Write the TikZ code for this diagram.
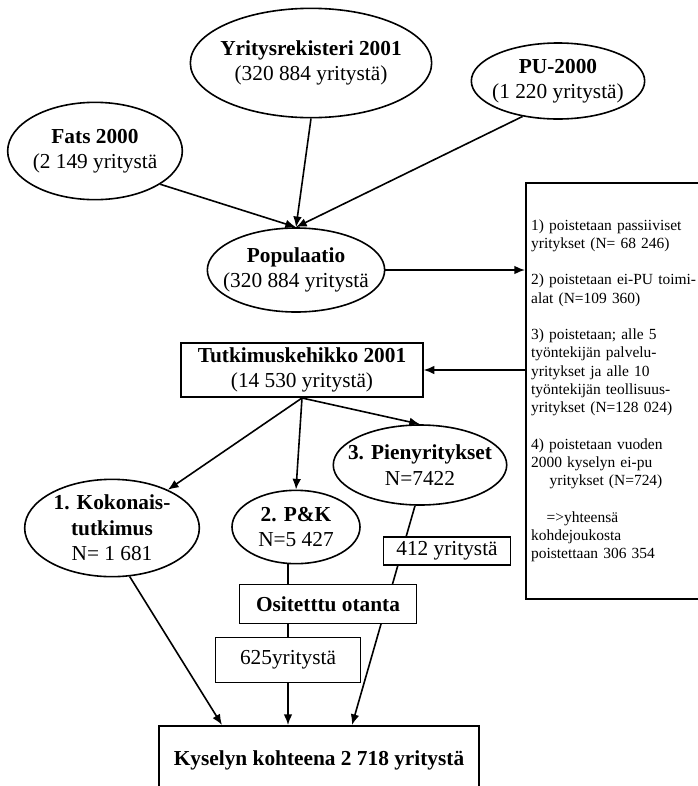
\documentclass[tikz,border=0pt]{standalone}
\usepackage{fontspec}
\setmainfont{Liberation Serif}
\usetikzlibrary{shapes.geometric,arrows.meta,backgrounds}

\begin{document}
\begin{tikzpicture}[x=0.75pt, y=-0.75pt, line width=1.2pt,
    >={Latex[length=8pt,width=6.5pt]},
    every on background layer/.style={line width=1.2pt},
    src/.style={ellipse, draw, inner xsep=-8pt, inner ysep=0pt, align=center,
      font=\fontsize{16}{19}\selectfont},
    box/.style={rectangle, draw, fill=white, inner sep=0pt, align=center,
      font=\fontsize{16}{19}\selectfont}]
    % Frame of the picture
    \useasboundingbox (0,0) rectangle (698,786);
    \clip (0,0) rectangle (698,786);

    % Draw the sources
    \node[src, minimum width=181pt, minimum height=82pt] (yr) at (311,63) {\textbf{Yritysrekisteri 2001}\\(320 884 yritystä)};
    \node[src, minimum width=131pt, minimum height=73pt] (fats) at (95,151) {\textbf{Fats 2000}\\(2 149 yritystä};
    \node[src, minimum width=130pt, minimum height=57pt] (pu) at (558,81) {\textbf{PU-2000}\\(1 220 yritystä)};
    \node[src, minimum width=133pt, minimum height=63pt] (pop) at (296,270) {\textbf{Populaatio}\\(320 884 yritystä};

    % Draw the removals and the frame
    \node[draw, anchor=north west, text width=150pt, inner xsep=4pt, minimum height=312pt,
      align=left, font=\fontsize{11.6}{13.7}\selectfont] (rb) at (525,182)
      {1) poistetaan passiiviset\\
       yritykset\ (N= 68 246)\\[13.7pt]
       2) poistetaan ei-PU toimi-\\
       alat (N=109 360)\\[13.7pt]
       3) poistetaan; alle 5\\
       työntekijän palvelu-\\
       yritykset ja alle 10\\
       työntekijän teollisuus-\\
       yritykset (N=128 024)\\[13.7pt]
       4) poistetaan vuoden\\
       2000 kyselyn ei-pu\\
       \hspace*{1.2em}yritykset\ (N=724)\\[13.7pt]
       \hspace*{1em}=>yhteensä\\
       kohdejoukosta\\
       poistettaan 306 354};
    \node[box, line width=1.5pt, minimum width=181pt, minimum height=40.5pt] (tk) at (302,370) {\textbf{Tutkimuskehikko 2001}\\(14 530 yritystä)};

    % Draw the three parts
    \node[src, minimum width=131pt, minimum height=73pt] (kok) at (112,528) {\textbf{1. Kokonais-}\\\textbf{tutkimus}\\N= 1 681};
    \node[src, minimum width=96pt, minimum height=55pt] (pk) at (296,527) {\textbf{2. P\&K}\\N=5 427};
    \node[src, minimum width=124.5pt, minimum height=60pt] (pien) at (420,465) {\textbf{3. Pienyritykset}\\N=7422};

    % Draw the samples
    \node[box, minimum width=95pt, minimum height=21pt] (b412) at (447,551) {412 yritystä};
    \node[box, minimum width=133pt, minimum height=29pt] (ost) at (328,604) {\textbf{Ositetttu otanta}};
    \node[box, minimum width=109pt, minimum height=34pt] (b625) at (288,660) {625yritystä};
    \node[box, minimum width=240pt, minimum height=52pt, anchor=north] (final) at (319,725) {\textbf{Kyselyn kohteena 2 718 yritystä}};
    \coordinate (in1) at (222,725);
    \coordinate (in3) at (352,725);

    % Draw the connectors
    \begin{scope}[on background layer]
        \draw[->] (fats.-27) -- (pop.north);
        \draw[->] (yr.south) -- (pop.north);
        \draw[->] (pu.-135) -- (pop.north);
        \draw[->] (pop.east) -- (pop.east -| rb.west);
        \draw[->] (rb.west |- tk.east) -- (tk.east);
        \draw[->] (tk.south) -- (kok);
        \draw[->] (tk.south) -- (pk.north);
        \draw[->] (tk.south) -- (pien.north);
        \draw[->] (kok.-70) -- (in1);
        \draw (pk.south -| b625.north) -- (b625.north);
        \draw[->] (b625.south) -- (b625.south |- final.north);
        \draw[->] (pien.-97) -- (in3);
    \end{scope}
\end{tikzpicture}
\end{document}
